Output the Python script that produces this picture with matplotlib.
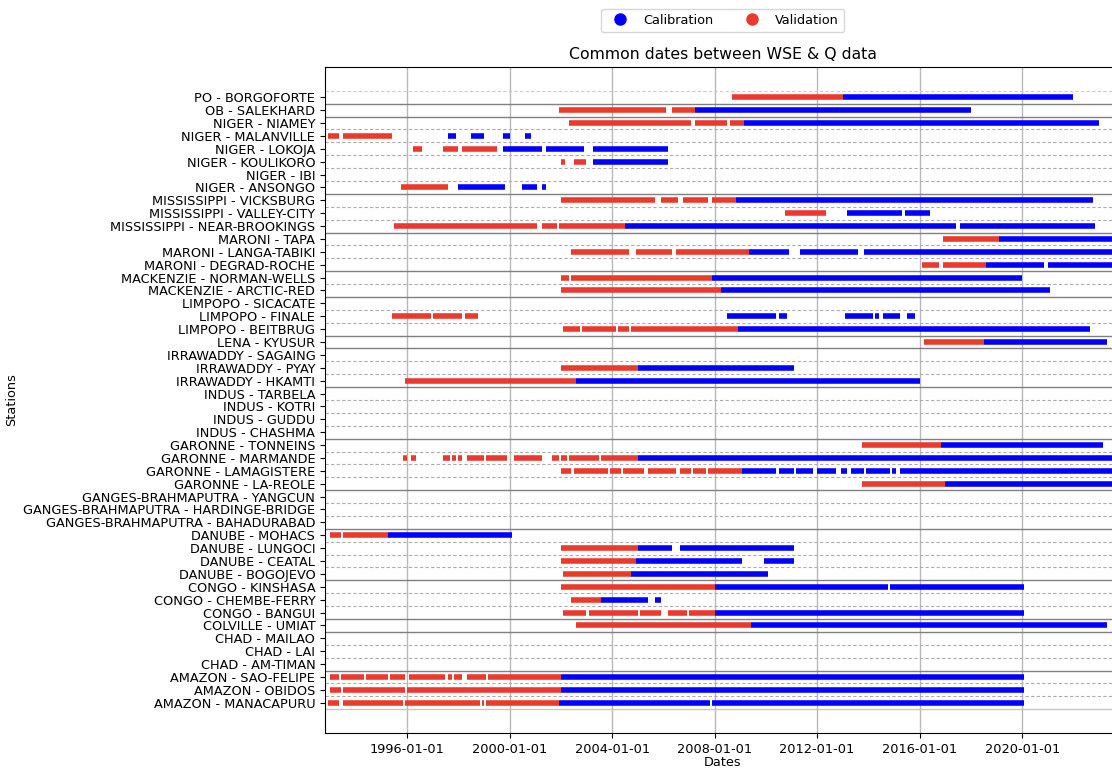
import numpy as np
import matplotlib
matplotlib.use("Agg")
import matplotlib.pyplot as plt
import matplotlib.dates as mdates
from matplotlib.lines import Line2D

# stations, top to bottom as displayed
stations = [
    "PO - BORGOFORTE", "OB - SALEKHARD", "NIGER - NIAMEY", "NIGER - MALANVILLE",
    "NIGER - LOKOJA", "NIGER - KOULIKORO", "NIGER - IBI", "NIGER - ANSONGO",
    "MISSISSIPPI - VICKSBURG", "MISSISSIPPI - VALLEY-CITY", "MISSISSIPPI - NEAR-BROOKINGS",
    "MARONI - TAPA", "MARONI - LANGA-TABIKI", "MARONI - DEGRAD-ROCHE",
    "MACKENZIE - NORMAN-WELLS", "MACKENZIE - ARCTIC-RED",
    "LIMPOPO - SICACATE", "LIMPOPO - FINALE", "LIMPOPO - BEITBRUG", "LENA - KYUSUR",
    "IRRAWADDY - SAGAING", "IRRAWADDY - PYAY", "IRRAWADDY - HKAMTI",
    "INDUS - TARBELA", "INDUS - KOTRI", "INDUS - GUDDU", "INDUS - CHASHMA",
    "GARONNE - TONNEINS", "GARONNE - MARMANDE", "GARONNE - LAMAGISTERE", "GARONNE - LA-REOLE",
    "GANGES-BRAHMAPUTRA - YANGCUN", "GANGES-BRAHMAPUTRA - HARDINGE-BRIDGE",
    "GANGES-BRAHMAPUTRA - BAHADURABAD",
    "DANUBE - MOHACS", "DANUBE - LUNGOCI", "DANUBE - CEATAL", "DANUBE - BOGOJEVO",
    "CONGO - KINSHASA", "CONGO - CHEMBE-FERRY", "CONGO - BANGUI", "COLVILLE - UMIAT",
    "CHAD - MAILAO", "CHAD - LAI", "CHAD - AM-TIMAN",
    "AMAZON - SAO-FELIPE", "AMAZON - OBIDOS", "AMAZON - MANACAPURU",
]

# validation periods (start, end) per station
validation = [
    [("2008-09", "2013-01")],
    [("2001-12", "2006-02"), ("2006-05", "2007-04")],
    [("2002-05", "2007-02"), ("2007-04", "2008-07"), ("2008-08", "2009-03")],
    [("1992-12", "1993-05"), ("1993-07", "1995-06")],
    [("1996-04", "1996-08"), ("1997-06", "1998-01"), ("1998-03", "1999-07")],
    [("2002-01", "2002-03"), ("2002-07", "2003-01")],
    [],
    [("1995-10", "1997-08")],
    [("2002-01", "2005-09"), ("2005-12", "2006-08"), ("2006-10", "2007-10"), ("2007-12", "2008-11")],
    [("2010-10", "2012-05")],
    [("1995-07", "2001-02"), ("2001-04", "2001-11"), ("2001-12", "2004-07")],
    [("2016-12", "2019-02")],
    [("2002-06", "2004-09"), ("2004-12", "2006-05"), ("2006-07", "2009-05")],
    [("2016-02", "2016-10"), ("2016-12", "2018-08")],
    [("2002-01", "2002-05"), ("2002-06", "2007-12")],
    [("2002-01", "2008-04")],
    [],
    [("1995-06", "1996-12"), ("1997-01", "1998-03"), ("1998-04", "1998-10")],
    [("2002-02", "2002-10"), ("2002-11", "2004-03"), ("2004-04", "2004-09"), ("2004-10", "2008-12")],
    [("2016-03", "2018-07")],
    [],
    [("2002-01", "2005-01")],
    [("1995-12", "2002-08")],
    [], [], [], [],
    [("2013-10", "2016-11")],
    [("1995-11", "1996-01"), ("1996-03", "1996-05"), ("1997-06", "1997-09"), ("1997-10", "1997-12"),
     ("1998-01", "1998-03"), ("1998-05", "1999-01"), ("1999-02", "1999-12"), ("2000-03", "2001-04"),
     ("2001-09", "2001-12"), ("2002-01", "2002-04"), ("2002-05", "2003-07"), ("2003-08", "2005-01")],
    [("2002-01", "2002-06"), ("2002-07", "2003-11"), ("2003-12", "2004-05"), ("2004-06", "2005-04"),
     ("2005-06", "2006-07"), ("2006-09", "2007-02"), ("2007-03", "2007-09"), ("2007-10", "2009-02")],
    [("2013-10", "2017-01")],
    [], [], [],
    [("1993-01", "1993-06"), ("1993-07", "1995-04")],
    [("2002-01", "2005-01")],
    [("2002-01", "2004-12")],
    [("2002-02", "2004-10")],
    [("2002-01", "2008-01")],
    [("2002-06", "2003-08")],
    [("2002-02", "2003-01"), ("2003-02", "2005-01"), ("2005-02", "2005-12"), ("2006-03", "2006-12"),
     ("2007-01", "2008-01")],
    [("2002-08", "2009-06")],
    [], [], [],
    [("1993-01", "1993-05"), ("1993-06", "1994-05"), ("1994-06", "1995-04"), ("1995-05", "1995-12"),
     ("1996-02", "1997-07"), ("1997-08", "1997-10"), ("1997-11", "1998-03"), ("1998-05", "1999-02"),
     ("1999-03", "2002-01")],
    [("1993-01", "1993-06"), ("1993-07", "1995-12"), ("1996-01", "2002-01")],
    [("1992-12", "1993-05"), ("1993-07", "1995-11"), ("1995-12", "1998-11"), ("1998-12", "1999-01"),
     ("1999-02", "2001-12")],
]

# calibration periods (start, end) per station
calibration = [
    [("2013-01", "2022-01")],
    [("2007-04", "2018-01")],
    [("2009-03", "2023-01")],
    [("1997-08", "1997-12"), ("1998-07", "1999-01"), ("1999-10", "2000-01"), ("2000-08", "2000-11")],
    [("1999-10", "2001-04"), ("2001-06", "2002-12"), ("2003-04", "2006-03")],
    [("2003-04", "2006-03")],
    [],
    [("1998-01", "1999-11"), ("2000-07", "2001-02"), ("2001-04", "2001-06")],
    [("2008-11", "2022-10")],
    [("2013-03", "2015-05"), ("2015-06", "2016-06")],
    [("2004-07", "2017-06"), ("2017-08", "2022-11")],
    [("2019-02", "2023-09")],
    [("2009-05", "2010-12"), ("2011-05", "2013-08"), ("2013-11", "2023-09")],
    [("2018-08", "2020-11"), ("2021-01", "2023-09")],
    [("2007-12", "2020-01")],
    [("2008-04", "2021-02")],
    [],
    [("2008-07", "2010-06"), ("2010-07", "2010-11"), ("2013-02", "2014-03"), ("2014-04", "2014-06"),
     ("2014-08", "2015-04"), ("2015-07", "2015-11")],
    [("2008-12", "2022-09")],
    [("2018-07", "2023-05")],
    [],
    [("2005-01", "2011-02")],
    [("2002-08", "2016-01")],
    [], [], [], [],
    [("2016-11", "2023-03")],
    [("2005-01", "2023-09")],
    [("2009-02", "2010-06"), ("2010-07", "2011-02"), ("2011-03", "2011-11"), ("2012-01", "2012-10"),
     ("2012-12", "2013-03"), ("2013-05", "2013-11"), ("2013-12", "2014-11"), ("2014-12", "2015-02"),
     ("2015-04", "2023-09")],
    [("2017-01", "2023-09")],
    [], [], [],
    [("1995-04", "2000-02")],
    [("2005-01", "2006-05"), ("2006-09", "2011-02")],
    [("2004-12", "2009-02"), ("2009-12", "2011-02")],
    [("2004-10", "2010-02")],
    [("2008-01", "2014-10"), ("2014-11", "2020-02")],
    [("2003-08", "2005-06"), ("2005-09", "2005-12")],
    [("2008-01", "2020-02")],
    [("2009-06", "2023-05")],
    [], [], [],
    [("2002-01", "2020-02")],
    [("2002-01", "2020-02")],
    [("2001-12", "2007-11"), ("2007-12", "2020-02")],
]

CAL_COLOR = "#0000FF"
VAL_COLOR = "#EB3A2C"
FS = 9.3


def to_num(s):
    return mdates.date2num(np.datetime64(s, "D"))


fig = plt.figure(figsize=(11.12, 7.69), dpi=100)
ax = fig.add_axes([0.2923, 0.0468, 0.7158, 0.8661])

n = len(stations)
ys = np.arange(n)[::-1]  # first station on top
rivers = [s.split(" - ")[0] for s in stations]

# separator lines between stations: solid between rivers, dashed within a river
for i in range(n - 1):
    ysep = ys[i] - 0.5
    if rivers[i] != rivers[i + 1]:
        ax.axhline(ysep, color="0.5", lw=1.0, zorder=1)
    else:
        ax.axhline(ysep, color="0.68", lw=0.8, ls=(0, (3, 2)), zorder=1)
ax.axhline(ys[0] + 0.5, color="0.8", lw=0.8, ls=(0, (3, 2)), zorder=1)
ax.axhline(ys[-1] - 0.5, color="0.78", lw=1.0, zorder=1)

for y, segs in zip(ys, validation):
    for a, b in segs:
        ax.hlines(y, to_num(a), to_num(b), color=VAL_COLOR, lw=4.0, capstyle="butt", zorder=3)
for y, segs in zip(ys, calibration):
    for a, b in segs:
        ax.hlines(y, to_num(a), to_num(b), color=CAL_COLOR, lw=4.0, capstyle="butt", zorder=3)

ax.set_yticks(ys)
ax.set_yticklabels(stations, fontsize=FS)
ax.set_ylim(-2.35, n - 1 + 2.35)

ax.set_xlim(to_num("1992-10-19"), to_num("2023-11-10"))
ax.xaxis.set_major_locator(mdates.YearLocator(4))
ax.xaxis.set_major_formatter(mdates.DateFormatter("%Y-%m-%d"))
ax.tick_params(axis="x", labelsize=FS)
ax.grid(axis="x", color="0.72", lw=1.0, zorder=0)
ax.set_axisbelow(True)

ax.set_xlabel("Dates", fontsize=FS, labelpad=0)
ax.set_ylabel("Stations", fontsize=FS)
ax.set_title("Common dates between WSE & Q data", fontsize=11.3)

handles = [
    Line2D([], [], marker="o", ls="", color=CAL_COLOR, markersize=8, label="Calibration"),
    Line2D([], [], marker="o", ls="", color=VAL_COLOR, markersize=8, label="Validation"),
]
fig.legend(handles=handles, loc="upper center", bbox_to_anchor=(0.65, 0.997),
           ncol=2, fontsize=FS, frameon=True)

fig.savefig("out.png", dpi=100)
